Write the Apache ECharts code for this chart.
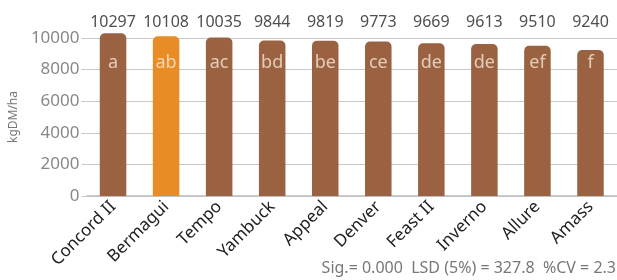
<!DOCTYPE html>
<html>
<head>
<meta charset="utf-8">
<script src="https://cdn.jsdelivr.net/npm/echarts@6/dist/echarts.min.js"></script>
<style>
html, body { margin: 0; padding: 0; background: #fff; }
#main { width: 617px; height: 280px; }
</style>
</head>
<body>
<div id="main"></div>
<script>
var cultivars = ['Concord II', 'Bermagui', 'Tempo', 'Yambuck', 'Appeal', 'Denver', 'Feast II', 'Inverno', 'Allure', 'Amass'];
var yields = [10297, 10108, 10035, 9844, 9819, 9773, 9669, 9613, 9510, 9240];
var groups = ['a', 'ab', 'ac', 'bd', 'be', 'ce', 'de', 'de', 'ef', 'f'];
var yTicks = [0, 2000, 4000, 6000, 8000, 10000];
var highlight = 'Bermagui';
var footnote = 'Sig.= 0.000  LSD (5%) = 327.8  %CV = 2.3';

// where the text rows sit (axis units)
var valueRow = 11000;
var letterRow = 8400;

(function(){
	var myChart = echarts.init(document.getElementById('main'));
	var font = 'Noto Sans';

	option = {
    animation: false,
    grid: {
        left: 83,
        right: 0,
        top: 38,
        bottom: 84
    },
    xAxis: {
        type: 'category',
        data: cultivars,
        axisLine: { lineStyle: { color: '#bdbdbd', width: 1.5 } },
        axisTick: { show: false },
        axisLabel: {
            rotate: 45,
            interval: 0,
            margin: 8,
            color: '#222',
            fontSize: 17,
            fontFamily: font
        }
    },
    yAxis: {
        type: 'value',
        min: yTicks[0],
        max: yTicks[yTicks.length - 1],
        interval: 2000,
        name: 'kgDM/ha',
        nameLocation: 'middle',
        nameRotate: 90,
        nameGap: 65,
        nameTextStyle: { color: '#777', fontSize: 12, fontFamily: font },
        axisLine: { show: false },
        axisTick: { show: true, length: 5, lineStyle: { color: '#c8c8c8' } },
        splitLine: { lineStyle: { color: '#c8c8c8', width: 1.2 } },
        axisLabel: {
            color: '#888',
            fontSize: 17,
            fontFamily: font,
            margin: 7,
            formatter: function(v){ return String(v); }
        }
    },
    series: [
        {
            name: 'yield',
            type: 'bar',
            barWidth: '50%',
            clip: false,
            data: yields.map(function(v, i){
                return {
                    value: v,
                    itemStyle: {
                        color: cultivars[i] === highlight ? '#E88D26' : '#9B6242',
                        borderRadius: [5, 5, 0, 0]
                    }
                };
            })
        },
        {
            name: 'values',
            type: 'scatter',
            symbolSize: 0,
            clip: false,
            silent: true,
            data: yields.map(function(v){ return valueRow; }),
            label: {
                show: true,
                position: 'inside',
                color: '#222',
                fontSize: 16,
                fontFamily: font,
                formatter: function(p){ return yields[p.dataIndex]; }
            }
        },
        {
            name: 'groups',
            type: 'scatter',
            symbolSize: 0,
            silent: true,
            data: groups.map(function(g){ return letterRow; }),
            label: {
                show: true,
                position: 'inside',
                color: '#F6E6D6',
                fontSize: 18,
                fontFamily: font,
                formatter: function(p){ return groups[p.dataIndex]; }
            }
        }
    ],
    graphic: [
        {
            type: 'text',
            right: 1,
            top: 260,
            style: {
                text: footnote,
                fill: '#777',
                font: '16px ' + font
            }
        }
    ]
};
	myChart.setOption(option);
})();
</script>
</body>
</html>
